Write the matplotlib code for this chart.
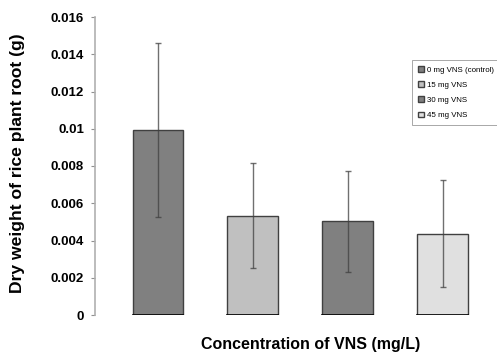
import numpy as np
import matplotlib.pyplot as plt

labels = ['0 mg VNS (control)', '15 mg VNS', '30 mg VNS', '45 mg VNS']
means = [0.00993, 0.00533, 0.00503, 0.00437]
errs = [0.00465, 0.00282, 0.00271, 0.00288]
colors = ['#808080', '#c0c0c0', '#808080', '#e0e0e0']

plt.rcParams['font.family'] = ['Liberation Sans', 'DejaVu Sans']

fig = plt.figure(figsize=(4.97, 3.56), dpi=100)
ax = fig.add_axes([95 / 497, 41 / 356, 395 / 497, 298 / 356])

x = np.arange(len(means))
for i in range(len(means)):
    ax.bar(x[i], means[i], width=0.53, color=colors[i], edgecolor='#404040',
           linewidth=1.0, label=labels[i], zorder=2)
    ax.plot([x[i] - 0.265, x[i] + 0.265], [0, 0], color='black', lw=1.2, zorder=3)
ax.errorbar(x, means, yerr=errs, fmt='none', ecolor='#404040', elinewidth=1.0,
            capsize=2.5, capthick=1.0, alpha=0.75, zorder=4)

ax.set_xlim(-0.66, 3.5)
ax.set_ylim(0, 0.016)
ax.set_yticks(np.arange(0, 0.0161, 0.002))
ax.set_yticklabels(['0', '0.002', '0.004', '0.006', '0.008', '0.01', '0.012', '0.014', '0.016'],
                   fontsize=9.5, fontweight='bold')
ax.set_xticks([])
for s in ['top', 'right', 'bottom']:
    ax.spines[s].set_visible(False)
ax.spines['left'].set_color('#b0b0b0')
ax.spines['left'].set_linewidth(1.2)
ax.tick_params(axis='y', length=3, color='#909090', width=0.8, pad=5)

fig.text(18 / 497, 1 - 163 / 356, 'Dry weight of rice plant root (g)', fontsize=12.6,
         fontweight='bold', ha='center', va='center', rotation=90)
fig.text(311 / 497, 1 - 345 / 356, 'Concentration of VNS (mg/L)', fontsize=11.5,
         fontweight='bold', ha='center', va='center')

leg = ax.legend(loc='upper left', bbox_to_anchor=(412 / 497, 1 - 60 / 356),
                bbox_transform=fig.transFigure, fontsize=5.7, frameon=True, fancybox=False,
                edgecolor='#808080', handlelength=0.7, handleheight=0.7,
                handletextpad=0.4, labelspacing=0.95, borderpad=0.8, borderaxespad=0)
leg.get_frame().set_linewidth(0.6)

fig.savefig('out.png', dpi=100)
